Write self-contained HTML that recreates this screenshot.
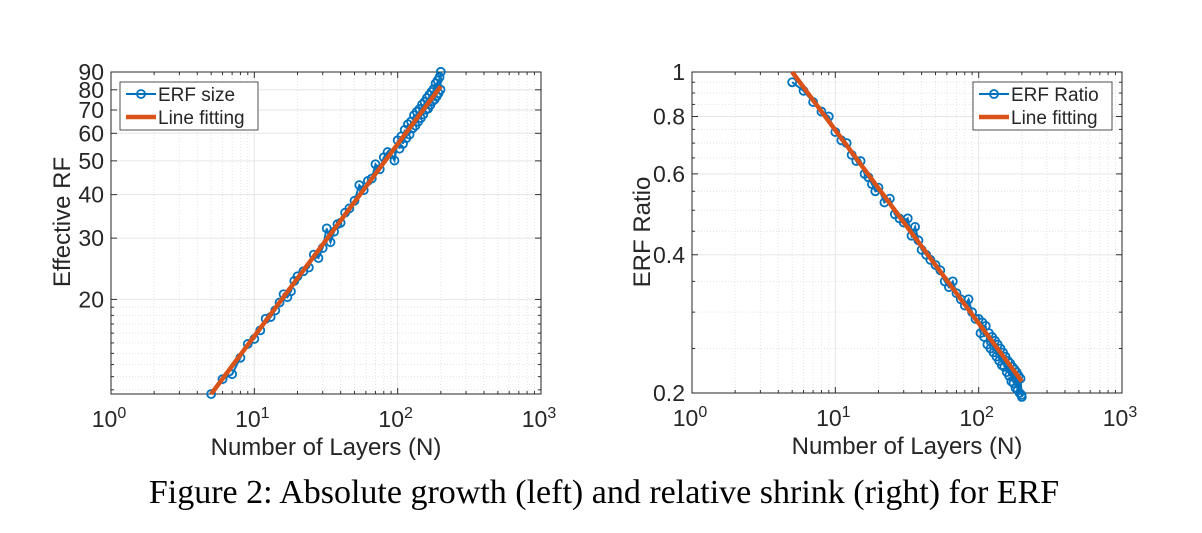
<!DOCTYPE html>
<html><head><meta charset="utf-8">
<style>
body{margin:0;background:#fff;width:1202px;height:528px;overflow:hidden}
svg text{font-family:"Liberation Sans",sans-serif;fill:#262626}
</style></head>
<body>
<svg id="fig" width="1202" height="528" xmlns="http://www.w3.org/2000/svg">
<text x="604" y="503" text-anchor="middle" style="font-family:'Liberation Serif',serif;font-size:34px;fill:#000">Figure 2: Absolute growth (left) and relative shrink (right) for ERF</text>
</svg>
<script>
const layersN=[5,6,7,8,9,10,11,12,13,14,15,16,17,18,19,20,22,24,26,28,30,32,34,36,38,40,43,46,50,54,58,62,66,70,75,80,85,90,95,100,103,106,109,112,115,118,121,124,127,130,133,136,139,142,145,148,151,154,157,160,163,166,169,172,175,178,181,184,187,190,193,196,199,200];
const erfSize=[10.7,11.8,12.2,13.6,14.9,15.4,16.3,17.6,17.8,18.6,19.6,20.7,20.3,21.1,22.6,23.3,24.1,24.7,26.9,26.3,28.1,32.0,29.2,31.3,32.9,33.2,35.5,36.5,38.4,42.6,41.2,43.8,44.5,48.9,47.3,51.2,53.0,52.4,50.1,57.3,54.2,58.8,56.0,61.4,58.1,63.7,59.5,64.9,62.0,67.6,63.1,69.2,64.8,70.5,66.3,72.6,68.0,73.9,70.1,75.8,70.6,77.3,72.4,78.9,74.2,80.4,75.0,83.5,76.6,85.1,78.2,87.0,80.1,90.1];
const erfFit=[10.7,81.9];
const erfRatio=[0.95,0.91,0.86,0.82,0.80,0.74,0.71,0.70,0.66,0.64,0.64,0.60,0.59,0.57,0.55,0.56,0.52,0.53,0.49,0.48,0.47,0.48,0.44,0.46,0.43,0.41,0.40,0.39,0.38,0.37,0.35,0.34,0.35,0.33,0.32,0.31,0.32,0.30,0.29,0.29,0.27,0.285,0.265,0.28,0.255,0.27,0.25,0.265,0.245,0.26,0.24,0.255,0.235,0.25,0.23,0.245,0.228,0.24,0.222,0.235,0.218,0.232,0.212,0.228,0.21,0.225,0.205,0.222,0.203,0.218,0.2,0.215,0.198,0.196];
const ratioFit=[1.0,0.212];
const fitN=[5,200];
const xTicks=[1,10,100,1000];
const leftYTicks=[20,30,40,50,60,70,80,90];
const leftYMinor=[11,12,13,14,15,16,17,18,19];
const rightYTicks=[0.2,0.4,0.6,0.8,1];
const rightYMinor=[0.3,0.5,0.7,0.9,0.25,0.35,0.45,0.55,0.65,0.75,0.85,0.95];

const NS="http://www.w3.org/2000/svg";
const svg=document.getElementById('fig');
function mk(tag,attrs,parent){const e=document.createElementNS(NS,tag);for(const k in attrs)e.setAttribute(k,attrs[k]);(parent||svg).appendChild(e);return e;}

function panel(o){
  const g=mk('g',{});
  
  
  const L=Math.log10;
  const xs=v=>o.x0+(L(v)-0)/3*(o.x1-o.x0);
  const ys=v=>o.y1-(L(v)-L(o.ymin))/(L(o.ymax)-L(o.ymin))*(o.y1-o.y0);
  for(let d=0;d<3;d++)for(let m=2;m<10;m++){const x=xs(m*Math.pow(10,d));
    const l=mk('line',{x1:x,x2:x,y1:o.y0,y2:o.y1,stroke:'#e4e4e4','stroke-width':1,'stroke-dasharray':'1,2'},g);
    
    mk('line',{x1:x,x2:x,y1:o.y1,y2:o.y1-3,stroke:'#333'},g);mk('line',{x1:x,x2:x,y1:o.y0,y2:o.y0+3,stroke:'#333'},g);}
  o.yMinor.forEach(v=>{const y=ys(v);
    const l=mk('line',{x1:o.x0,x2:o.x1,y1:y,y2:y,stroke:'#e4e4e4','stroke-width':1,'stroke-dasharray':'1,2'},g);
    
    mk('line',{x1:o.x0,x2:o.x0+3,y1:y,y2:y,stroke:'#333'},g);mk('line',{x1:o.x1,x2:o.x1-3,y1:y,y2:y,stroke:'#333'},g);});
  xTicks.forEach((v,i)=>{const x=xs(v);
    const l=mk('line',{x1:x,x2:x,y1:o.y0,y2:o.y1,stroke:'#e6e6e6','stroke-width':1},g);
    
    mk('line',{x1:x,x2:x,y1:o.y1,y2:o.y1-6,stroke:'#333'},g);mk('line',{x1:x,x2:x,y1:o.y0,y2:o.y0+6,stroke:'#333'},g);
    const t=mk('text',{x:x-2,y:o.y1+33,'text-anchor':'middle','font-size':23},g);
    
    t.textContent='10';const s=mk('tspan',{dy:-9,'font-size':16},t);s.textContent=String(i);});
  o.yTicks.forEach(v=>{const y=ys(v);
    const l=mk('line',{x1:o.x0,x2:o.x1,y1:y,y2:y,stroke:'#e6e6e6','stroke-width':1},g);
    
    mk('line',{x1:o.x0,x2:o.x0+6,y1:y,y2:y,stroke:'#333'},g);mk('line',{x1:o.x1,x2:o.x1-6,y1:y,y2:y,stroke:'#333'},g);
    const t=mk('text',{x:o.x0-7,y:y+8,'text-anchor':'end','font-size':23},g);
    
    t.textContent=String(v);});
  const box=mk('rect',{x:o.x0,y:o.y0,width:o.x1-o.x0,height:o.y1-o.y0,fill:'none',stroke:'#262626','stroke-width':1},g);
  
  const pts=layersN.map((n,i)=>xs(n).toFixed(1)+','+ys(o.vals[i]).toFixed(1)).join(' ');
  const pl=mk('polyline',{points:pts,fill:'none',stroke:'#0072BD','stroke-width':2},g);
  
  layersN.forEach((n,i)=>{const c=mk('circle',{cx:xs(n),cy:ys(o.vals[i]),r:4,fill:'none',stroke:'#0072BD','stroke-width':1.8},g);
    });
  const fl=mk('line',{x1:xs(fitN[0]),y1:ys(o.fit[0]),x2:xs(fitN[1]),y2:ys(o.fit[1]),stroke:'#D95319','stroke-width':4.5},g);
  
  const lg=mk('g',{},g);
  mk('rect',{x:o.lx,y:82,width:o.lw,height:48,fill:'#fff',stroke:'#262626','stroke-width':0.8},lg);
  mk('line',{x1:o.lx+6,x2:o.lx+36,y1:94,y2:94,stroke:'#0072BD','stroke-width':2},lg);
  mk('circle',{cx:o.lx+21,cy:94,r:4,fill:'none',stroke:'#0072BD','stroke-width':1.8},lg);
  mk('line',{x1:o.lx+6,x2:o.lx+36,y1:117,y2:117,stroke:'#D95319','stroke-width':4.5},lg);
  const t1=mk('text',{x:o.lx+38,y:101,'font-size':19},lg);t1.textContent=o.leg1;
  
  const t2=mk('text',{x:o.lx+38,y:124,'font-size':19},lg);t2.textContent='Line fitting';
  
  const xl=mk('text',{x:(o.x0+o.x1)/2,y:o.y1+61,'text-anchor':'middle','font-size':24},g);
  xl.textContent='Number of Layers (N)';
  const yl=mk('text',{x:0,y:0,'text-anchor':'middle','font-size':24,transform:`translate(${o.ylx},${o.yly}) rotate(-90)`},g);
  yl.textContent=o.ytitle;
}
panel({name:'left-chart',x0:111,x1:541,y0:72,y1:394,ymin:10.7,ymax:90,yTicks:leftYTicks,yMinor:leftYMinor,vals:erfSize,fit:erfFit,lx:120,lw:138,leg1:'ERF size',ytitle:'Effective RF',ylx:70,yly:222});
panel({name:'right-chart',x0:692,x1:1122,y0:72,y1:393,ymin:0.2,ymax:1,yTicks:rightYTicks,yMinor:rightYMinor,vals:erfRatio,fit:ratioFit,lx:973,lw:139,leg1:'ERF Ratio',ytitle:'ERF Ratio',ylx:650,yly:232});
</script>
</body></html>
